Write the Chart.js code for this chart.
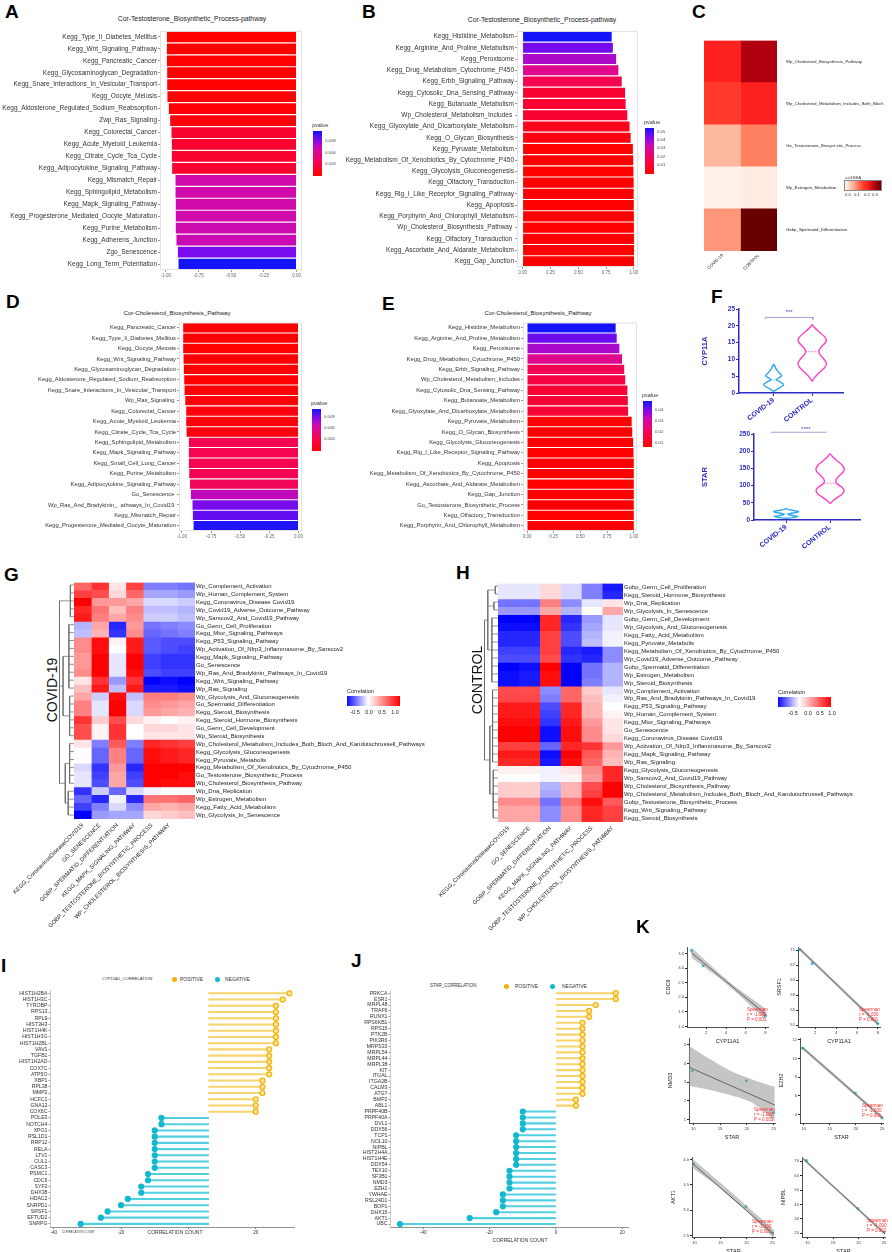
<!DOCTYPE html>
<html>
<head>
<meta charset="utf-8">
<script src="https://cdn.jsdelivr.net/npm/chart.js@4.4.1/dist/chart.umd.min.js"></script>
<style>
  html, body { margin: 0; padding: 0; background: #fff; }
  #page { position: relative; width: 892px; height: 1252px; overflow: hidden; background: #fff;
          font-family: 'Liberation Sans', Arial, Helvetica, sans-serif; }
  canvas { position: absolute; }
  .t { position: absolute; white-space: nowrap; line-height: 1; color: #222; }
  .box { position: absolute; }
</style>
</head>
<body>
<div id="page"></div>
<script>
"use strict";

// ── Data: A / B  (Cor-Testosterone_Biosynthetic_Process-pathway) ─────────────
const A_LABELS = ["Kegg_Type_Ii_Diabetes_Mellitus", "Kegg_Wnt_Signaling_Pathway", "Kegg_Pancreatic_Cancer",
  "Kegg_Glycosaminoglycan_Degradation", "Kegg_Snare_Interactions_In_Vesicular_Transport", "Kegg_Oocyte_Meiosis",
  "Kegg_Aldosterone_Regulated_Sodium_Reabsorption", "Zwp_Ras_Signaling", "Kegg_Colorectal_Cancer",
  "Kegg_Acute_Myeloid_Leukemia", "Kegg_Citrate_Cycle_Tca_Cycle", "Kegg_Adipocytokine_Signaling_Pathway",
  "Kegg_Mismatch_Repair", "Kegg_Sphingolipid_Metabolism", "Kegg_Mapk_Signaling_Pathway",
  "Kegg_Progesterone_Mediated_Oocyte_Maturation", "Kegg_Purine_Metabolism", "Kegg_Adherens_Junction",
  "Zgo_Senescence", "Kegg_Long_Term_Potentiation"];
const A_COR = [-0.992, -0.992, -0.992, -0.99, -0.99, -0.988, -0.977, -0.967, -0.957, -0.954,
  -0.954, -0.952, -0.926, -0.926, -0.924, -0.924, -0.924, -0.919, -0.908, -0.903];
const A_PVAL = [0.0012, 0.0012, 0.0012, 0.0012, 0.0012, 0.0013, 0.0014, 0.0016, 0.0028, 0.0028,
  0.0028, 0.0029, 0.0068, 0.0068, 0.0068, 0.0068, 0.0069, 0.007, 0.0088, 0.0105];

const B_LABELS = ["Kegg_Histidine_Metabolism", "Kegg_Arginine_And_Proline_Metabolism", "Kegg_Peroxisome",
  "Kegg_Drug_Metabolism_Cytochrome_P450", "Kegg_Erbb_Signaling_Pathway", "Kegg_Cytosolic_Dna_Sensing_Pathway",
  "Kegg_Butanoate_Metabolism", "Wp_Cholesterol_Metabolism_Includes ", "Kegg_Glyoxylate_And_Dicarboxylate_Metabolism",
  "Kegg_O_Glycan_Biosynthesis", "Kegg_Pyruvate_Metabolism", "Kegg_Metabolism_Of_Xenobiotics_By_Cytochrome_P450",
  "Kegg_Glycolysis_Gluconeogenesis", "Kegg_Olfactory_Transduction", "Kegg_Rig_I_Like_Receptor_Signaling_Pathway",
  "Kegg_Apoptosis", "Kegg_Porphyrin_And_Chlorophyll_Metabolism", "Wp_Cholesterol_Biosynthesis_Pathway ",
  "Kegg_Olfactory_Transduction ", "Kegg_Ascorbate_And_Aldarate_Metabolism", "Kegg_Gap_Junction"];
const B_COR = [0.80, 0.81, 0.84, 0.86, 0.89, 0.92, 0.925, 0.94, 0.96, 0.97, 0.99, 0.993, 0.995,
  0.997, 0.997, 0.998, 0.999, 0.999, 1.0, 1.0, 1.0];
const B_PVAL = [0.055, 0.046, 0.0395, 0.0295, 0.0193, 0.0132, 0.0132, 0.0132, 0.0091, 0.007, 0.004,
  0.004, 0.004, 0.004, 0.004, 0.004, 0.004, 0.004, 0.004, 0.004, 0.004];

// ── Data: D / E  (Cor-Cholesterol_Biosynthesis_Pathway) ──────────────────────
const D_LABELS = ["Kegg_Pancreatic_Cancer", "Kegg_Type_Ii_Diabetes_Mellitus", "Kegg_Oocyte_Meiosis",
  "Kegg_Wnt_Signaling_Pathway", "Kegg_Glycosaminoglycan_Degradation", "Kegg_Aldosterone_Regulated_Sodium_Reabsorption",
  "Kegg_Snare_Interactions_In_Vesicular_Transport", "Wp_Ras_Signaling ", "Kegg_Colorectal_Cancer",
  "Kegg_Acute_Myeloid_Leukemia", "Kegg_Citrate_Cycle_Tca_Cycle", "Kegg_Sphingolipid_Metabolism",
  "Kegg_Mapk_Signaling_Pathway", "Kegg_Small_Cell_Lung_Cancer", "Kegg_Purine_Metabolism",
  "Kegg_Adipocytokine_Signaling_Pathway", "Go_Senescence ", "Wp_Ras_And_Bradykinin_  athways_In_Covid19 ",
  "Kegg_Mismatch_Repair", "Kegg_Progesterone_Mediated_Oocyte_Maturation"];
const D_COR = [-0.989, -0.989, -0.989, -0.986, -0.983, -0.98, -0.977, -0.971, -0.963, -0.963,
  -0.96, -0.94, -0.94, -0.94, -0.937, -0.931, -0.923, -0.909, -0.906, -0.9];
const D_PVAL = [0.0012, 0.0012, 0.0012, 0.0012, 0.0013, 0.0013, 0.0014, 0.0015, 0.0017, 0.0017,
  0.0018, 0.004, 0.004, 0.004, 0.0041, 0.0043, 0.0072, 0.0088, 0.0092, 0.0103];

const E_LABELS = ["Kegg_Histidine_Metabolism", "Kegg_Arginine_And_Proline_Metabolism", "Kegg_Peroxisome",
  "Kegg_Drug_Metabolism_Cytochrome_P450", "Kegg_Erbb_Signaling_Pathway", "Wp_Cholesterol_Metabolism_Includes",
  "Kegg_Cytosolic_Dna_Sensing_Pathway", "Kegg_Butanoate_Metabolism", "Kegg_Glyoxylate_And_Dicarboxylate_Metabolism",
  "Kegg_Pyruvate_Metabolism", "Kegg_O_Glycan_Biosynthesis", "Kegg_Glycolysis_Gluconeogenesis",
  "Kegg_Rig_I_Like_Receptor_Signaling_Pathway", "Kegg_Apoptosis", "Kegg_Metabolism_Of_Xenobiotics_By_Cytochrome_P450",
  "Kegg_Ascorbate_And_Aldarate_Metabolism", "Kegg_Gap_Junction", "Go_Testosterone_Biosynthetic_Process",
  "Kegg_Olfactory_Transduction", "Kegg_Porphyrin_And_Chlorophyll_Metabolism"];
const E_COR = [0.83, 0.84, 0.865, 0.89, 0.91, 0.92, 0.94, 0.944, 0.947, 0.98, 0.985, 0.994,
  0.997, 1.0, 1.0, 1.0, 1.0, 1.0, 1.0, 1.0];
const E_PVAL = [0.045, 0.0384, 0.0327, 0.0245, 0.0171, 0.0143, 0.0122, 0.0122, 0.0122, 0.0045,
  0.0045, 0.004, 0.004, 0.004, 0.004, 0.004, 0.004, 0.004, 0.004, 0.004];

// ── Data: C  (ssGSEA heatmap) ────────────────────────────────────────────────
const C_ROWS = ["Wp_Cholesterol_Biosynthesis_Pathway", "Wp_Cholesterol_Metabolism_Includes_Both_Bloch",
  "Go_Testosterone_Biosynt etic_Process", "Wp_Estrogen_Metabolism", "Gobp_Spermatid_Differentiation"];
const C_COLS = ["COVID-19", "CONTROL"];
const C_SSGSEA = [[0.22, 0.29], [0.18, 0.22], [0.07, 0.12], [0.006, 0.012], [0.10, 0.35]];

// ── Data: F  (violins) ───────────────────────────────────────────────────────
const F_GROUPS = ["COVID-19", "CONTROL"];
const CYP_COVID_Y = [0.5, 1.2, 2.0, 2.6, 3.3, 4.0, 4.6, 5.2, 5.9, 7.0, 8.0, 8.5];
const CYP_COVID_W = [0, 0.10, 0.22, 0.26, 0.17, 0.07, 0.15, 0.21, 0.15, 0.07, 0.03, 0];
const CYP_CTRL_Y = [3.5, 4.5, 6.0, 7.5, 8.8, 10.2, 11.5, 12.4, 13.5, 14.8, 15.8, 17.0, 18.5, 19.5, 20.3];
const CYP_CTRL_W = [0, 0.06, 0.18, 0.32, 0.37, 0.30, 0.20, 0.17, 0.22, 0.33, 0.37, 0.30, 0.15, 0.06, 0];
const CYP_MEDIANS = [3.9, 12.3];
const STAR_COVID_Y = [5, 7, 10, 13, 16, 19, 22, 25, 28, 31, 33];
const STAR_COVID_W = [0, 0.15, 0.27, 0.15, 0.05, 0.10, 0.25, 0.28, 0.15, 0.04, 0];
const STAR_CTRL_Y = [48, 55, 65, 75, 85, 95, 105, 112, 120, 130, 140, 150, 160, 170, 180, 188, 192];
const STAR_CTRL_W = [0, 0.06, 0.16, 0.27, 0.32, 0.27, 0.16, 0.13, 0.15, 0.22, 0.30, 0.32, 0.27, 0.18, 0.09, 0.03, 0];
const STAR_MEDIANS = [18, 107];

// ── Data: G / H  (correlation heatmaps) ──────────────────────────────────────
const HM_COLS = ["KEGG_CoronavirusDiseaseCOVID19", "GO_SENESCENCE", "GOBP_SPERMATID_DIFFERENTIATION",
  "KEGG_MAPK_SIGNALING_PATHWAY", "GOBP_TESTOSTERONE_BIOSYNTHETIC_PROCESS", "WP_CHOLESTEROL_BIOSYNTHESIS_PATHWAY"];
const G_ROWS = ["Wp_Complement_Activation", "Wp_Human_Complement_System", "Kegg_Coronavirus_Disease Covid19",
  "Wp_Covid19_Adverse_Outcome_Pathway", "Wp_Sarscov2_And_Covid19_Pathway", "Go_Germ_Cell_Proliferation",
  "Kegg_Mtor_Signaling_Pathways", "Kegg_P53_Signaling_Pathway", "Wp_Activation_Of_Nlrp3_Inflammasome_By_Sarscov2",
  "Kegg_Mapk_Signaling_Pathway", "Go_Senescence", "Wp_Ras_And_Bradykinin_Pathways_In_Covid19",
  "Kegg_Wnt_Signaling_Pathway", "Wp_Ras_Signaling", "Wp_Glycolysis_And_Gluconeogenesis",
  "Go_Spermatid_Differentiation", "Kegg_Steroid_Biosynthesis", "Kegg_Steroid_Hormone_Biosynthesis",
  "Go_Germ_Cell_Development", "Wp_Steroid_Biosynthesis",
  "Wp_Cholesterol_Metabolism_Includes_Both_Bloch_And_Kandutschrussell_Pathways",
  "Kegg_Glycolysis_Gluconeogenesis", "Kegg_Pyruvate_Metabolis", "Kegg_Metabolism_Of_Xenobiotics_By_Cytochrome_P450",
  "Go_Testosterone_Biosynthetic_Process", "Wp_Cholesterol_Biosynthesis_Pathway", "Wp_Dna_Replication",
  "Wp_Estrogen_Metabolism", "Kegg_Fatty_Acid_Metabolism", "Wp_Glycolysis_In_Senescence"];
const G_CORR = [
  [0.60, 0.80, 0.10, 0.75, -0.50, -0.50, -0.55],
  [0.75, 0.70, 0.15, 0.60, -0.35, -0.35, -0.40],
  [1.00, 0.40, 0.40, 0.35, -0.15, -0.15, -0.20],
  [0.85, 0.55, 0.25, 0.50, -0.25, -0.25, -0.30],
  [0.90, 0.50, 0.35, 0.45, -0.20, -0.20, -0.25],
  [-0.30, 0.35, -0.85, 0.40, -0.55, -0.50, -0.45],
  [-0.25, 0.30, -0.80, 0.45, -0.60, -0.55, -0.50],
  [0.45, 0.95, 0.05, 0.90, -0.65, -0.70, -0.70],
  [0.45, 0.95, 0.00, 0.90, -0.65, -0.70, -0.75],
  [0.40, 1.00, -0.10, 1.00, -0.75, -0.80, -0.80],
  [0.40, 1.00, -0.10, 1.00, -0.75, -0.80, -0.80],
  [0.45, 1.00, -0.10, 0.95, -0.70, -0.75, -0.75],
  [0.10, 0.80, -0.40, 0.80, -1.00, -0.95, -1.00],
  [0.25, 0.90, -0.25, 0.90, -0.90, -0.90, -0.95],
  [0.35, -0.20, 0.95, -0.25, 0.50, 0.50, 0.45],
  [0.50, -0.10, 1.00, -0.15, 0.45, 0.40, 0.35],
  [0.50, -0.10, 1.00, -0.15, 0.40, 0.35, 0.30],
  [0.80, 0.20, 0.70, 0.15, 0.05, 0.00, 0.05],
  [0.70, 0.05, 0.80, 0.00, 0.15, 0.15, 0.10],
  [0.70, 0.05, 0.80, 0.00, 0.10, 0.10, 0.10],
  [0.10, -0.50, 0.65, -0.50, 0.85, 0.80, 0.75],
  [0.00, -0.60, 0.50, -0.60, 0.95, 0.90, 0.85],
  [0.00, -0.60, 0.50, -0.60, 0.95, 0.90, 0.85],
  [-0.15, -0.80, 0.40, -0.85, 1.00, 1.00, 1.00],
  [-0.10, -0.75, 0.35, -0.75, 1.00, 1.00, 0.95],
  [-0.10, -0.70, 0.35, -0.70, 1.00, 0.95, 0.95],
  [-0.80, -0.20, -0.60, -0.15, -0.05, 0.00, 0.00],
  [-0.60, -0.85, -0.05, -0.85, 0.55, 0.55, 0.60],
  [-0.75, -0.50, -0.15, -0.45, 0.35, 0.30, 0.35],
  [-1.00, -0.40, -0.35, -0.35, 0.15, 0.20, 0.25]];
const G_TREE_L1 = [[0, 4, 0.25], [5, 13, 0.35], [14, 19, 0.3], [20, 25, 0.3], [26, 29, 0.4]];
const G_TREE_L2 = [[0, 0, 0.6], [1, 2, 0.75], [3, 4, 0.6]];

const H_ROWS = ["Gobp_Germ_Cell_Proliferation", "Kegg_Steroid_Hormone_Biosynthesis", "Wp_Dna_Replication",
  "Wp_Glycolysis_In_Senescence", "Gobp_Germ_Cell_Development", "Wp_Glycolysis_And_Gluconeogenesis",
  "Kegg_Fatty_Acid_Metabolism", "Kegg_Pyruvate_Metabolis", "Kegg_Metabolism_Of_Xenobiotics_By_Cytochrome_P450",
  "Wp_Covid19_Adverse_Outcome_Pathway", "Gobp_Spermatid_Differentiation", "Wp_Estrogen_Metabolism",
  "Wp_Steroid_Biosynthesis", "Wp_Complement_Activation", "Wp_Ras_And_Bradykinin_Pathways_In_Covid19",
  "Kegg_P53_Signaling_Pathway", "Wp_Human_Complement_System", "Kegg_Mtor_Signaling_Pathways", "Go_Senescence",
  "Kegg_Coronavirus_Disease Covid19", "Wp_Activation_Of_Nlrp3_Inflammasome_By_Sarscov2",
  "Kegg_Mapk_Signaling_Pathway", "Wp_Ras_Signaling", "Kegg_Glycolysis_Gluconeogenesis",
  "Wp_Sarscov2_And_Covid19_Pathway", "Wp_Cholesterol_Biosynthesis_Pathway",
  "Wp_Cholesterol_Metabolism_Includes_Both_Bloch_And_Kandutschrussell_Pathways",
  "Gobp_Testosterone_Biosynthetic_Process", "Kegg_Wnt_Signaling_Pathway", "Kegg_Steroid_Biosynthesis"];
const H_CORR = [
  [-0.10, -0.10, 0.15, -0.15, -0.50, -0.90],
  [-0.10, -0.10, 0.15, -0.15, -0.50, -0.85],
  [-0.55, -0.55, 0.50, -0.45, -0.10, 0.10],
  [-0.40, -0.40, 0.35, -0.30, 0.00, 0.35],
  [-1.00, -1.00, 0.85, -0.85, -0.40, -0.10],
  [-0.95, -0.95, 0.85, -0.80, -0.35, -0.10],
  [-0.85, -0.85, 0.75, -0.70, -0.30, -0.05],
  [-0.85, -0.85, 0.75, -0.70, -0.25, -0.05],
  [-0.75, -0.75, 0.75, -0.85, -0.90, -0.45],
  [-0.70, -0.70, 0.70, -0.80, -0.85, -0.45],
  [-1.00, -0.95, 1.00, -1.00, -0.55, -0.30],
  [-0.95, -0.90, 0.95, -1.00, -0.55, -0.30],
  [-0.95, -0.90, 0.95, -1.00, -0.50, -0.30],
  [0.70, 0.70, -0.45, 0.60, 0.20, -0.10],
  [0.72, 0.72, -0.50, 0.60, 0.25, -0.05],
  [0.90, 0.90, -0.70, 0.85, 0.30, 0.00],
  [0.90, 0.90, -0.75, 0.85, 0.30, 0.05],
  [0.95, 0.95, -0.80, 0.90, 0.40, 0.10],
  [1.00, 1.00, -0.95, 0.95, 0.45, 0.10],
  [1.00, 1.00, -0.95, 0.95, 0.45, 0.15],
  [0.75, 0.75, -0.60, 0.85, 0.80, 0.40],
  [0.90, 0.90, -0.95, 1.00, 0.65, 0.30],
  [0.85, 0.85, -0.90, 0.95, 0.60, 0.25],
  [0.05, 0.05, -0.05, 0.10, 0.45, 0.85],
  [0.00, 0.00, -0.05, 0.05, 0.40, 0.85],
  [0.20, 0.20, -0.30, 0.30, 0.70, 1.00],
  [0.20, 0.20, -0.35, 0.30, 0.75, 1.00],
  [0.45, 0.45, -0.55, 0.55, 0.95, 0.65],
  [0.35, 0.35, -0.45, 0.45, 0.85, 0.75],
  [0.35, 0.35, -0.45, 0.45, 0.85, 0.75]];
const H_TREE_L1 = [[0, 1, 0.2], [2, 3, 0.3], [4, 12, 0.45], [13, 22, 0.4], [23, 29, 0.35]];
const H_TREE_L2 = [[0, 2, 0.75], [3, 4, 0.6]];

// ── Data: I / J  (lollipops) ─────────────────────────────────────────────────
const I_GENES = ["HIST1H2BA", "HIST1H3C", "TYROBP", "RPS13", "RPL9", "HIST3H3", "HIST1H4K", "HIST1H3G",
  "HIST1H2BL", "VAV1", "TGFB1", "HIST1H2AD", "COX7C", "ATP5O", "XBP1", "RPL38", "MMP2", "HCFC1", "GNA12",
  "COX6C", "POLE3", "NOTCH4", "XPO1", "RSL1D1", "RRP12", "RELA", "LTV1", "CUL1", "CASC3", "PSMC1", "CDC6",
  "SYF2", "DHX38", "HDAC2", "SNRPD1", "SRSF1", "EFTUD2", "SNRPG"];
const I_COUNTS = [30, 28, 26, 26, 26, 26, 26, 26, 26, 24, 24, 24, 24, 24, 22, 22, 22, 20, 20, 20,
  -8, -8, -10, -10, -10, -10, -10, -10, -10, -12, -12, -14, -14, -18, -20, -24, -26, -32];
const I_STEM_BASE = 6;

const J_GENES = ["PRKCA", "ESR1", "MRPL48", "TRAF6", "RUNX1", "RPS6KB1", "RPS15", "PTK2B", "PIK3R6", "MRPS33",
  "MRPL54", "MRPL44", "MRPL38", "KIT", "ITGAL", "ITGA2B", "CALM3", "ATG7", "BMP2", "ABL1", "PRPF40B",
  "PRPF40A", "DVL1", "DDX56", "TCP1", "NOL10", "NIPBL", "HIST2H4A", "HIST1H4E", "DDX54", "TEX10", "SF3B1",
  "NMD3", "EZH2", "YWHAE", "RSL24D1", "BOP1", "DHX15", "AKT1", "UBC"];
const J_COUNTS = [18, 18, 12, 10, 10, 8, 8, 8, 8, 8, 8, 8, 8, 8, 8, 8, 8, 8, 6, 6,
  -10, -10, -10, -10, -12, -12, -12, -12, -12, -12, -14, -14, -14, -14, -16, -16, -16, -18, -26, -47];
const J_STEM_BASE = 0;

// ── Data: K  (Spearman scatter plots) ────────────────────────────────────────
const K_CYP11A1 = [0.5, 1.7, 8.0];
const K_STAR = [9.8, 19.9, 25.0];
const K1_CDC6 = [3.6, 3.08, 1.37];
const K2_SRSF1 = [71.1, 67.4, 51.4];
const K3_NMD3 = [3.6, 3.07, 1.38];
const K4_EZH2 = [11.1, 6.3, 3.65];
const K5_AKT1 = [3.91, 3.07, 2.55];
const K6_NIPBL = [70.5, 37.0, 20.7];
const K1_FIT = [[0.5, 3.52], [8.0, 1.42]];
const K2_FIT = [[0.5, 71.3], [8.0, 51.3]];
const K3_FIT = [[9.2, 3.8], [25.2, 1.78]];
const K4_FIT = [[9.8, 11.15], [25.2, 3.6]];
const K5_FIT = [[9.5, 3.93], [25.3, 2.52]];
const K6_FIT = [[8.9, 72.5], [25.2, 19.5]];
const K1_BAND = [[0.5, 3.36, 3.7], [4.2, 2.41, 2.56], [8.0, 1.24, 1.6]];
const K2_BAND = [[0.5, 70.8, 71.8], [8.0, 50.8, 51.8]];
const K3_BAND = [[9.2, 2.8, 4.95], [13, 2.6, 4.25], [17, 2.3, 3.6], [21, 1.9, 3.15], [25.2, 0.9, 2.75]];
const K4_BAND = [[9.8, 10.95, 11.35], [25.2, 3.4, 3.8]];
const K5_BAND = [[9.5, 3.85, 4.02], [17, 3.27, 3.36], [25.3, 2.44, 2.61]];
const K6_BAND = [[8.9, 71.5, 73.5], [25.2, 18.5, 20.5]];

// ── Colours ──────────────────────────────────────────────────────────────────
const P_STOPS = [[0, [255, 0, 0]], [0.3, [245, 5, 80]], [0.6, [210, 10, 170]], [0.8, [130, 10, 235]], [1, [20, 20, 250]]];
const CORR_STOPS = [[0, [0, 0, 255]], [0.5, [255, 255, 255]], [1, [255, 0, 0]]];
const SS_STOPS = [[0, [255, 245, 240]], [0.2, [255, 184, 160]], [0.343, [255, 128, 96]], [0.514, [255, 58, 42]],
  [0.629, [255, 32, 32]], [0.829, [176, 0, 16]], [1, [104, 0, 0]]];
const BLUE = "#2b2bc4";
const VIOLIN_COVID = "#2aa7ee";
const VIOLIN_CTRL = "#ff3fc8";
const STEM_POS = "#f7d36a", STEM_NEG = "#52cfe0";
const DOT_POS = "#f2b200", DOT_POS_FILL = "#fbe4a2", DOT_NEG = "#13b8cf";
const K_POINT = "#1fb8d8";

// ── Helpers ──────────────────────────────────────────────────────────────────
const FONT = "'Liberation Sans', Arial, Helvetica, sans-serif";
Chart.defaults.font.family = FONT;
Chart.defaults.animation = false;
Chart.defaults.responsive = false;
Chart.defaults.maintainAspectRatio = false;
Chart.defaults.plugins.legend.display = false;
Chart.defaults.plugins.tooltip.enabled = false;

const page = document.getElementById("page");

function rampColor(stops, t) {
  t = Math.max(0, Math.min(1, t));
  for (let i = 1; i < stops.length; i++) {
    if (t <= stops[i][0]) {
      const [t0, c0] = stops[i - 1];
      const [t1, c1] = stops[i];
      const f = (t - t0) / (t1 - t0);
      const c = c0.map((v, k) => Math.round(v + (c1[k] - v) * f));
      return `rgb(${c[0]},${c[1]},${c[2]})`;
    }
  }
  const c = stops[stops.length - 1][1];
  return `rgb(${c[0]},${c[1]},${c[2]})`;
}

function gradientCss(stops, dir) {
  return `linear-gradient(${dir}, ${stops.map(([t, c]) => `rgb(${c.join(",")}) ${t * 100}%`).join(", ")})`;
}

function canvasAt(x, y, w, h) {
  const c = document.createElement("canvas");
  c.width = w; c.height = h;
  c.style.left = x + "px"; c.style.top = y + "px";
  c.style.width = w + "px"; c.style.height = h + "px";
  page.appendChild(c);
  return c.getContext("2d");
}

// anchor: "left" = left edge / vertical centre, "center" = both centred, "top" = top-left corner
function txt(str, x, y, size, o = {}) {
  const d = document.createElement("div");
  d.className = "t";
  d.textContent = str;
  const s = d.style;
  s.left = x + "px"; s.top = y + "px"; s.fontSize = size + "px";
  if (o.color) s.color = o.color;
  if (o.bold) s.fontWeight = "bold";
  if (o.pre) { s.whiteSpace = "pre"; s.lineHeight = o.pre; }
  let tf = "";
  const anchor = o.anchor || "left";
  if (anchor === "center") tf = "translate(-50%,-50%)";
  else if (anchor === "left") tf = "translateY(-50%)";
  if (o.rotate) tf += ` rotate(${o.rotate}deg)`;
  s.transform = tf;
  page.appendChild(d);
  return d;
}

function box(x, y, w, h, bg, extra = "") {
  const d = document.createElement("div");
  d.className = "box";
  d.style.cssText = `left:${x}px;top:${y}px;width:${w}px;height:${h}px;background:${bg};${extra}`;
  page.appendChild(d);
}

function letter(ch, x, y) { txt(ch, x, y, 19, { bold: true, color: "#000", anchor: "top" }); }

// light frame around the plotting area (ggplot panel border)
Chart.register({
  id: "panelBorder",
  afterDraw(chart, args, opts) {
    if (!opts || !opts.color) return;
    const { ctx, chartArea: a } = chart;
    ctx.save();
    ctx.strokeStyle = opts.color;
    ctx.lineWidth = 1;
    ctx.strokeRect(a.left + 0.5, a.top + 0.5, a.width - 1, a.height - 1);
    ctx.restore();
  },
});

// ── Horizontal pathway bar charts (A, B, D, E) ───────────────────────────────
function pathwayBars(cfg) {
  const ctx = canvasAt(cfg.x, cfg.y, cfg.w, cfg.h);
  return new Chart(ctx, {
    type: "bar",
    data: {
      labels: cfg.labels,
      datasets: [{
        data: cfg.values,
        backgroundColor: cfg.pvals.map(p => rampColor(P_STOPS, (p - cfg.pLo) / (cfg.pHi - cfg.pLo))),
        borderWidth: 0,
        barPercentage: 0.9,
        categoryPercentage: 1,
      }],
    },
    options: {
      indexAxis: "y",
      layout: { padding: { top: cfg.padTop, right: cfg.padRight, left: 0, bottom: 0 } },
      plugins: { panelBorder: { color: "#e2e2e2" } },
      scales: {
        x: {
          min: cfg.min, max: cfg.max,
          ticks: { stepSize: 0.25, includeBounds: false, maxRotation: 0, font: { size: 4.5 }, color: "#666",
                   padding: 1, callback: v => v.toFixed(2) },
          grid: { display: true, drawOnChartArea: false, tickLength: 2, color: "#999" },
          border: { display: false },
          afterFit: s => { s.height = cfg.xAxisH; },
        },
        y: {
          ticks: { autoSkip: false, font: { size: cfg.font }, color: "#333", padding: 1 },
          grid: { display: true, drawOnChartArea: false, tickLength: 2, color: "#999", offset: false },
          border: { display: false },
          afterFit: s => { s.width = cfg.axisW; },
        },
      },
    },
  });
}

// ── Heatmaps (C, G, H) built from floating horizontal bars ───────────────────
function heatmap(cfg) {
  const ctx = canvasAt(cfg.x, cfg.y, cfg.w, cfg.h);
  const datasets = [];
  for (let c = 0; c < cfg.nCols; c++) {
    datasets.push({
      data: cfg.rows.map(() => [c, c + 1]),
      backgroundColor: cfg.rows.map((_, r) => cfg.color(cfg.matrix[r][c])),
      borderWidth: 0, barPercentage: 1, categoryPercentage: 1, grouped: false,
    });
  }
  return new Chart(ctx, {
    type: "bar",
    data: { labels: cfg.rows, datasets },
    options: {
      indexAxis: "y",
      layout: { padding: { left: cfg.padLeft, top: cfg.padTop, right: 0, bottom: 0 } },
      scales: {
        x: {
          type: "linear", min: 0, max: cfg.nCols,
          afterBuildTicks: s => { s.ticks = cfg.cols.map((_, i) => ({ value: i + 0.5 })); },
          ticks: { autoSkip: false, minRotation: 45, maxRotation: 45, font: { size: cfg.colFont },
                   color: "#222", padding: cfg.colPad, callback: (v, i) => cfg.cols[i] },
          grid: { display: false, drawTicks: false },
          border: { display: false },
          afterFit: s => { s.height = cfg.xAxisH; },
        },
        y: {
          position: "right",
          ticks: { autoSkip: false, font: { size: cfg.rowFont }, color: "#222", padding: cfg.rowPad },
          grid: { display: false, drawTicks: false },
          border: { display: false },
          afterFit: s => { s.width = cfg.axisW; },
        },
      },
    },
  });
}

// ── Row dendrogram beside a heatmap ──────────────────────────────────────────
function dendrogram(cfg) {
  const ctx = canvasAt(cfg.x, cfg.y, cfg.w, cfg.h);
  const pts = [];
  const seg = (x0, y0, x1, y1) => { pts.push({ x: x0, y: y0 }, { x: x1, y: y1 }, { x: null, y: null }); };
  const mids1 = cfg.l1.map(([a, b, hh]) => {
    for (let r = a; r <= b; r++) seg(0, r + 0.5, hh, r + 0.5);
    seg(hh, a + 0.5, hh, b + 0.5);
    return (a + b + 1) / 2;
  });
  const mids2 = cfg.l2.map(([p, q, hh]) => {
    for (let g = p; g <= q; g++) seg(cfg.l1[g][2], mids1[g], hh, mids1[g]);
    seg(hh, mids1[p], hh, mids1[q]);
    return (mids1[p] + mids1[q]) / 2;
  });
  cfg.l2.forEach(([, , hh], k) => seg(hh, mids2[k], 1, mids2[k]));
  seg(1, mids2[0], 1, mids2[mids2.length - 1]);
  return new Chart(ctx, {
    type: "scatter",
    data: { datasets: [{ data: pts, showLine: true, borderColor: "#666", borderWidth: 0.7, pointRadius: 0, spanGaps: false }] },
    options: {
      layout: { padding: 0 },
      scales: {
        x: { type: "linear", min: 0, max: 1.03, reverse: true, display: false },
        y: { type: "linear", min: 0, max: cfg.nRows, reverse: true, display: false },
      },
    },
  });
}

// ── Violin panels (F) ────────────────────────────────────────────────────────
function violinOutline(c, ys, ws) {
  const right = ys.map((yy, i) => ({ x: c + ws[i], y: yy }));
  const left = ys.map((yy, i) => ({ x: c - ws[i], y: yy })).reverse();
  return right.concat(left);
}

function violinPanel(cfg) {
  const ctx = canvasAt(cfg.x, cfg.y, cfg.w, cfg.h);
  const datasets = cfg.violins.map(v => ({
    data: violinOutline(v.c, v.ys, v.ws), showLine: true, borderColor: v.color, borderWidth: 1.4,
    pointRadius: 0, tension: 0.3, fill: false, clip: false,
  }));
  cfg.medians.forEach(m => datasets.push({
    data: [{ x: m.c - m.w, y: m.y }, { x: m.c + m.w, y: m.y }], showLine: true, borderColor: m.color,
    borderWidth: 0.8, borderDash: [1.5, 1.5], pointRadius: 0,
  }));
  const [x0, x1, yl, dy] = cfg.sig;
  datasets.push({
    data: [{ x: x0, y: yl - dy }, { x: x0, y: yl }, { x: x1, y: yl }, { x: x1, y: yl - dy }],
    showLine: true, borderColor: "#7b7bc8", borderWidth: 0.7, pointRadius: 0, clip: false,
  });
  return new Chart(ctx, {
    type: "scatter",
    data: { datasets },
    options: {
      layout: { padding: { top: cfg.padTop, right: cfg.padRight, left: 0, bottom: 0 } },
      scales: {
        x: {
          type: "linear", min: cfg.xMin, max: cfg.xMax,
          afterBuildTicks: s => { s.ticks = F_GROUPS.map((_, i) => ({ value: i + 1 })); },
          ticks: { autoSkip: false, minRotation: 38, maxRotation: 38, font: { size: 7, weight: "bold" }, color: BLUE,
                   padding: 0, callback: (v, i) => F_GROUPS[i] },
          grid: { display: true, drawOnChartArea: false, tickLength: 3, color: BLUE, lineWidth: 1 },
          border: { display: true, color: BLUE, width: 1.5 },
          afterFit: s => { s.height = cfg.xAxisH; },
        },
        y: {
          min: 0, max: cfg.yMax,
          ticks: { stepSize: cfg.yStep, includeBounds: false, font: { size: 6.5, weight: "bold" }, color: BLUE, padding: 1 },
          grid: { display: true, drawOnChartArea: false, tickLength: 3, color: BLUE, lineWidth: 1 },
          border: { display: true, color: BLUE, width: 1.5 },
          title: { display: true, text: cfg.yTitle, font: { size: 7.5, weight: "bold" }, color: BLUE, padding: 0 },
          afterFit: s => { s.width = cfg.axisW; },
        },
      },
    },
  });
}

// ── Lollipop charts (I, J) ───────────────────────────────────────────────────
function lollipop(cfg) {
  const ctx = canvasAt(cfg.x, cfg.y, cfg.w, cfg.h);
  const up = v => v > 0;
  return new Chart(ctx, {
    type: "bar",
    data: {
      labels: cfg.labels,
      datasets: [
        { type: "bar", order: 2, data: cfg.values.map(v => [cfg.base, v]),
          backgroundColor: cfg.values.map(v => (up(v) ? STEM_POS : STEM_NEG)), borderWidth: 0, barThickness: 1.4 },
        { type: "line", order: 1, indexAxis: "y", data: cfg.values, showLine: false, borderColor: "rgba(0,0,0,0)",
          pointRadius: 2.5, pointBorderWidth: 1.2, clip: false,
          pointBackgroundColor: cfg.values.map(v => (up(v) ? DOT_POS_FILL : DOT_NEG)),
          pointBorderColor: cfg.values.map(v => (up(v) ? DOT_POS : DOT_NEG)) },
      ],
    },
    options: {
      indexAxis: "y",
      layout: { padding: { top: cfg.padTop, right: cfg.padRight, left: 0, bottom: 0 } },
      scales: {
        x: {
          type: "linear", min: cfg.min, max: cfg.max,
          ticks: { stepSize: 20, includeBounds: false, maxRotation: 0, font: { size: 4.5 }, color: "#333", padding: 1,
                   callback: v => (cfg.hideZero && v === 0 ? "" : String(v)) },
          grid: { display: true, drawOnChartArea: false, tickLength: 2, color: "#777" },
          border: { display: true, color: "#777", width: 0.8 },
          afterFit: s => { s.height = cfg.xAxisH; },
        },
        y: {
          ticks: { autoSkip: false, font: { size: 5.2 }, color: "#333", padding: 1 },
          grid: { display: true, drawOnChartArea: false, tickLength: 1.5, color: "#999", offset: false },
          border: { display: true, color: "#aaa", width: 0.6 },
          afterFit: s => { s.width = cfg.axisW; },
        },
      },
    },
  });
}

// ── Spearman scatter plots (K) ───────────────────────────────────────────────
function kScatter(cfg) {
  const ctx = canvasAt(cfg.x, cfg.y, cfg.w, cfg.h);
  return new Chart(ctx, {
    type: "scatter",
    data: {
      datasets: [
        { data: cfg.band.map(b => ({ x: b[0], y: b[1] })), showLine: true, borderWidth: 0, pointRadius: 0,
          tension: 0.3, fill: false },
        { data: cfg.band.map(b => ({ x: b[0], y: b[2] })), showLine: true, borderWidth: 0, pointRadius: 0,
          tension: 0.3, fill: "-1", backgroundColor: "rgba(150,150,150,0.55)" },
        { data: cfg.fit.map(f => ({ x: f[0], y: f[1] })), showLine: true, borderColor: "#111", borderWidth: 0.9,
          pointRadius: 0 },
        { data: cfg.xs.map((v, i) => ({ x: v, y: cfg.ys[i] })), pointStyle: "rect", pointRadius: 1.8,
          backgroundColor: K_POINT, borderWidth: 0, clip: false },
      ],
    },
    options: {
      layout: { padding: { top: cfg.padTop, right: cfg.padRight, left: 0, bottom: 0 } },
      scales: {
        x: {
          type: "linear", min: cfg.xMin, max: cfg.xMax,
          afterBuildTicks: s => { s.ticks = cfg.xTicks.map(v => ({ value: v })); },
          ticks: { autoSkip: false, maxRotation: 0, font: { size: 4.2 }, color: "#444", padding: 1 },
          grid: { display: true, drawOnChartArea: false, tickLength: 2, color: "#222" },
          border: { display: true, color: "#222", width: 0.8 },
          title: { display: true, text: cfg.xTitle, font: { size: 5.5 }, color: "#222", padding: 0 },
          afterFit: s => { s.height = cfg.xAxisH; },
        },
        y: {
          type: "linear", min: cfg.yMin, max: cfg.yMax,
          afterBuildTicks: s => { s.ticks = cfg.yTicks.map(v => ({ value: v })); },
          ticks: { autoSkip: false, font: { size: 4.2 }, color: "#444", padding: 1,
                   callback: v => (cfg.yDec ? v.toFixed(cfg.yDec) : String(v)) },
          grid: { display: true, drawOnChartArea: false, tickLength: 2, color: "#222" },
          border: { display: true, color: "#222", width: 0.8 },
          title: { display: true, text: cfg.yTitle, font: { size: 5.5 }, color: "#222", padding: 0 },
          afterFit: s => { s.width = cfg.axisW; },
        },
      },
    },
  });
}

function pLegend(x, yTitle, barTop, barH, labels) {
  txt("pvalue", x, yTitle, 5.5, { color: "#333" });
  box(x + 1, barTop, 9, barH, gradientCss(P_STOPS, "to top"));
  labels.forEach(([s, yy]) => txt(s, x + 13, yy, 4.3, { color: "#444" }));
}

function corrLegend(x, y, labelXs) {
  txt("Correlation", x, y, 5.5, { color: "#222" });
  box(x, y + 4, 53, 10, "linear-gradient(to right, rgb(10,10,255) 0%, #fff 40%, rgb(255,0,0) 100%)");
  ["-0.5", "0.0", "0.5", "1.0"].forEach((s, i) => txt(s, labelXs[i], y + 21, 5.5, { anchor: "center", color: "#222" }));
}

function kNote(x, y) {
  txt("Spearman\nr = -1.000\nP = 0.001", x, y, 4.5, { anchor: "top", color: "#ff2a2a", pre: "5px" });
}

// ── Build ────────────────────────────────────────────────────────────────────
function init() {
  // A
  letter("A", 5, 2);
  txt("Cor-Testosterone_Biosynthetic_Process-pathway", 192, 19, 6.8, { anchor: "center", color: "#222" });
  pathwayBars({ x: 0, y: 26, w: 304, h: 256, axisW: 160, padTop: 2, padRight: 2, xAxisH: 12,
    labels: A_LABELS, values: A_COR, pvals: A_PVAL, pLo: 0.0012, pHi: 0.0105, min: -1.045, max: 0.042, font: 6.5 });
  pLegend(312, 126, 131, 45, [["0.009", 141], ["0.006", 152.7], ["0.003", 164.3]]);

  // B
  letter("B", 362, 2);
  txt("Cor-Testosterone_Biosynthetic_Process-pathway", 542, 20, 6.8, { anchor: "center", color: "#222" });
  pathwayBars({ x: 300, y: 26, w: 340, h: 253, axisW: 217, padTop: 1, padRight: 2, xAxisH: 12,
    labels: B_LABELS, values: B_COR, pvals: B_PVAL, pLo: 0.004, pHi: 0.055, min: -0.05, max: 1.036, font: 6.5 });
  pLegend(644, 123, 128, 46, [["0.05", 131.7], ["0.04", 140], ["0.03", 148.3], ["0.02", 156.7], ["0.01", 165]]);

  // C
  letter("C", 692, 2);
  heatmap({ x: 690, y: 29, w: 202, h: 244, padLeft: 14, padTop: 2, axisW: 115, xAxisH: 22,
    rows: C_ROWS, cols: C_COLS, nCols: 2, matrix: C_SSGSEA, color: v => rampColor(SS_STOPS, v / 0.35),
    rowFont: 4.3, colFont: 4.3, rowPad: 9, colPad: 2 });
  txt("ssGSEA", 845, 178, 4.3, { color: "#333" });
  box(845, 181, 36, 9, gradientCss(SS_STOPS, "to right"), "outline:0.5px solid #888;");
  [["0.0", 848], ["0.1", 857], ["0.2", 867], ["0.3", 875]].forEach(([s, xx]) => txt(s, xx, 195, 4.3, { anchor: "center", color: "#333" }));

  // D
  letter("D", 6, 292);
  txt("Cor-Cholesterol_Biosynthesis_Pathway", 177, 313, 6.1, { anchor: "center", color: "#222" });
  pathwayBars({ x: 0, y: 318, w: 304, h: 224, axisW: 179, padTop: 2, padRight: 2, xAxisH: 11,
    labels: D_LABELS, values: D_COR, pvals: D_PVAL, pLo: 0.0012, pHi: 0.0105, min: -1.025, max: 0.03, font: 5.8 });
  pLegend(311, 404, 409, 42, [["0.009", 416.7], ["0.006", 427.7], ["0.003", 439.3]]);

  // E
  letter("E", 382, 294);
  txt("Cor-Cholesterol_Biosynthesis_Pathway", 538, 313, 6.1, { anchor: "center", color: "#222" });
  pathwayBars({ x: 300, y: 318, w: 340, h: 224, axisW: 223, padTop: 2, padRight: 3, xAxisH: 11,
    labels: E_LABELS, values: E_COR, pvals: E_PVAL, pLo: 0.004, pHi: 0.045, min: -0.0375, max: 1.03, font: 5.8 });
  pLegend(642, 396, 401, 46, [["0.04", 410], ["0.03", 421], ["0.02", 432], ["0.01", 443]]);

  // F
  letter("F", 711, 287);
  violinPanel({ x: 700, y: 300, w: 150, h: 133, axisW: 39, padTop: 9, padRight: 7, xAxisH: 40,
    xMin: 0.1, xMax: 2.8, yMax: 25, yStep: 5, yTitle: "CYP11A",
    violins: [{ c: 1, ys: CYP_COVID_Y, ws: CYP_COVID_W, color: VIOLIN_COVID },
              { c: 2, ys: CYP_CTRL_Y, ws: CYP_CTRL_W, color: VIOLIN_CTRL }],
    medians: [{ c: 1, y: CYP_MEDIANS[0], w: 0.08, color: VIOLIN_COVID },
              { c: 2, y: CYP_MEDIANS[1], w: 0.17, color: VIOLIN_CTRL }],
    sig: [0.78, 2.02, 22.5, 0.6] });
  txt("***", 789, 312, 6, { anchor: "center", color: "#4444aa" });
  violinPanel({ x: 700, y: 425, w: 165, h: 125, axisW: 54, padTop: 9, padRight: 5, xAxisH: 30,
    xMin: 0.27, xMax: 2.68, yMax: 250, yStep: 50, yTitle: "STAR",
    violins: [{ c: 1, ys: STAR_COVID_Y, ws: STAR_COVID_W, color: VIOLIN_COVID },
              { c: 2, ys: STAR_CTRL_Y, ws: STAR_CTRL_W, color: VIOLIN_CTRL }],
    medians: [{ c: 1, y: STAR_MEDIANS[0], w: 0.06, color: VIOLIN_COVID },
              { c: 2, y: STAR_MEDIANS[1], w: 0.14, color: VIOLIN_CTRL }],
    sig: [0.65, 1.92, 255, 0] });
  txt("****", 806, 429, 6, { anchor: "center", color: "#4444aa" });

  // G
  letter("G", 4, 565);
  txt("COVID-19", 52, 690, 14, { anchor: "center", rotate: -90, color: "#111" });
  heatmap({ x: 0, y: 578, w: 440, h: 356, padLeft: 74, padTop: 3, axisW: 245, xAxisH: 115,
    rows: G_ROWS, cols: HM_COLS, nCols: 7, matrix: G_CORR, color: v => rampColor(CORR_STOPS, (v + 1) / 2),
    rowFont: 6, colFont: 5.8, rowPad: 1, colPad: 3 });
  dendrogram({ x: 59, y: 581, w: 15, h: 238, nRows: G_ROWS.length, l1: G_TREE_L1, l2: G_TREE_L2 });
  corrLegend(347, 692, [355, 369, 382, 395]);

  // H
  letter("H", 456, 563);
  txt("CONTROL", 477, 680, 14, { anchor: "center", rotate: -90, color: "#111" });
  heatmap({ x: 430, y: 579, w: 462, h: 358, padLeft: 68, padTop: 3, axisW: 269, xAxisH: 115,
    rows: H_ROWS, cols: HM_COLS, nCols: 6, matrix: H_CORR, color: v => rampColor(CORR_STOPS, (v + 1) / 2),
    rowFont: 6, colFont: 5.8, rowPad: 1, colPad: 3 });
  dendrogram({ x: 484, y: 582, w: 14, h: 240, nRows: H_ROWS.length, l1: H_TREE_L1, l2: H_TREE_L2 });
  corrLegend(778, 693, [793, 808, 820, 832]);

  // I
  txt("I", 1, 956, 19, { bold: true, color: "#000", anchor: "top" });
  txt("CYP11A1_CORRELATION", 102, 979, 4.2, { color: "#333" });
  box(171.5, 976.5, 5, 5, DOT_POS, "border-radius:50%;");
  txt("POSITIVE", 180, 979, 5, { color: "#333" });
  box(214.5, 976.5, 5, 5, DOT_NEG, "border-radius:50%;");
  txt("NEGATIVE", 225, 979, 5, { color: "#333" });
  lollipop({ x: 0, y: 985, w: 300, h: 255, axisW: 50, padTop: 4, padRight: 4, xAxisH: 13,
    labels: I_GENES, values: I_COUNTS, base: I_STEM_BASE, min: -41.1, max: 31.6, hideZero: true });
  txt("CORRELATION COUNT", 62, 1232, 3, { color: "#444" });
  txt("CORRELATION COUNT", 175, 1232, 5, { anchor: "center", color: "#333" });

  // J
  letter("J", 351, 951);
  txt("STAR_CORRELATION", 430, 986, 4.5, { color: "#333" });
  box(503.5, 983.5, 5, 5, DOT_POS, "border-radius:50%;");
  txt("POSITIVE", 515, 986, 5, { color: "#333" });
  box(549.5, 983.5, 5, 5, DOT_NEG, "border-radius:50%;");
  txt("NEGATIVE", 562, 986, 5, { color: "#333" });
  lollipop({ x: 300, y: 985, w: 335, h: 255, axisW: 90, padTop: 4, padRight: 7, xAxisH: 13,
    labels: J_GENES, values: J_COUNTS, base: J_STEM_BASE, min: -50, max: 21.7, hideZero: false });
  txt("CORRELATION COUNT", 520, 1240, 5, { anchor: "center", color: "#333" });

  // K
  letter("K", 636, 917);
  kScatter({ x: 665, y: 941, w: 107, h: 104, axisW: 22, padTop: 6, padRight: 4, xAxisH: 18,
    xs: K_CYP11A1, ys: K1_CDC6, fit: K1_FIT, band: K1_BAND, xMin: 0.05, xMax: 8.25, yMin: 0.98, yMax: 3.72,
    xTicks: [2, 4, 6, 8], yTicks: [1.0, 1.5, 2.0, 2.5, 3.0, 3.5], yDec: 1, xTitle: "CYP11A1", yTitle: "CDC6" });
  kNote(747, 1007);
  kScatter({ x: 776, y: 941, w: 108, h: 104, axisW: 22, padTop: 6, padRight: 4, xAxisH: 18,
    xs: K_CYP11A1, ys: K2_SRSF1, fit: K2_FIT, band: K2_BAND, xMin: 0.35, xMax: 8.2, yMin: 50.5, yMax: 71.8,
    xTicks: [2, 4, 6, 8], yTicks: [51, 55, 59, 63, 67, 71], xTitle: "CYP11A1", yTitle: "SRSF1" });
  kNote(859, 1007);
  kScatter({ x: 667, y: 1032, w: 112, h: 109, axisW: 22, padTop: 6, padRight: 4, xAxisH: 18,
    xs: K_STAR, ys: K3_NMD3, fit: K3_FIT, band: K3_BAND, xMin: 9.2, xMax: 25.25, yMin: 0.82, yMax: 5.36,
    xTicks: [10, 15, 20, 25], yTicks: [1, 2, 3, 4, 5], xTitle: "STAR", yTitle: "NMD3" });
  kNote(754, 1107);
  kScatter({ x: 778, y: 1032, w: 109, h: 109, axisW: 22, padTop: 6, padRight: 4, xAxisH: 18,
    xs: K_STAR, ys: K4_EZH2, fit: K4_FIT, band: K4_BAND, xMin: 9.3, xMax: 25.2, yMin: 3.1, yMax: 12.2,
    xTicks: [10, 15, 20, 25], yTicks: [4, 6, 8, 10, 12], xTitle: "STAR", yTitle: "EZH2" });
  kNote(862, 1103);
  kScatter({ x: 670, y: 1151, w: 109, h: 104, axisW: 22, padTop: 6, padRight: 4, xAxisH: 18,
    xs: K_STAR, ys: K5_AKT1, fit: K5_FIT, band: K5_BAND, xMin: 9.5, xMax: 25.5, yMin: 2.47, yMax: 4.05,
    xTicks: [10, 15, 20, 25], yTicks: [2.5, 3.0, 3.5, 4.0], yDec: 1, xTitle: "STAR", yTitle: "AKT1" });
  kNote(752, 1219);
  kScatter({ x: 780, y: 1151, w: 109, h: 104, axisW: 22, padTop: 6, padRight: 4, xAxisH: 18,
    xs: K_STAR, ys: K6_NIPBL, fit: K6_FIT, band: K6_BAND, xMin: 8.9, xMax: 25.2, yMin: 17.3, yMax: 73,
    xTicks: [10, 15, 20, 25], yTicks: [20, 30, 40, 50, 60, 70], xTitle: "STAR", yTitle: "NIPBL" });
  kNote(867, 1218);
}

init();
</script>
</body>
</html>
